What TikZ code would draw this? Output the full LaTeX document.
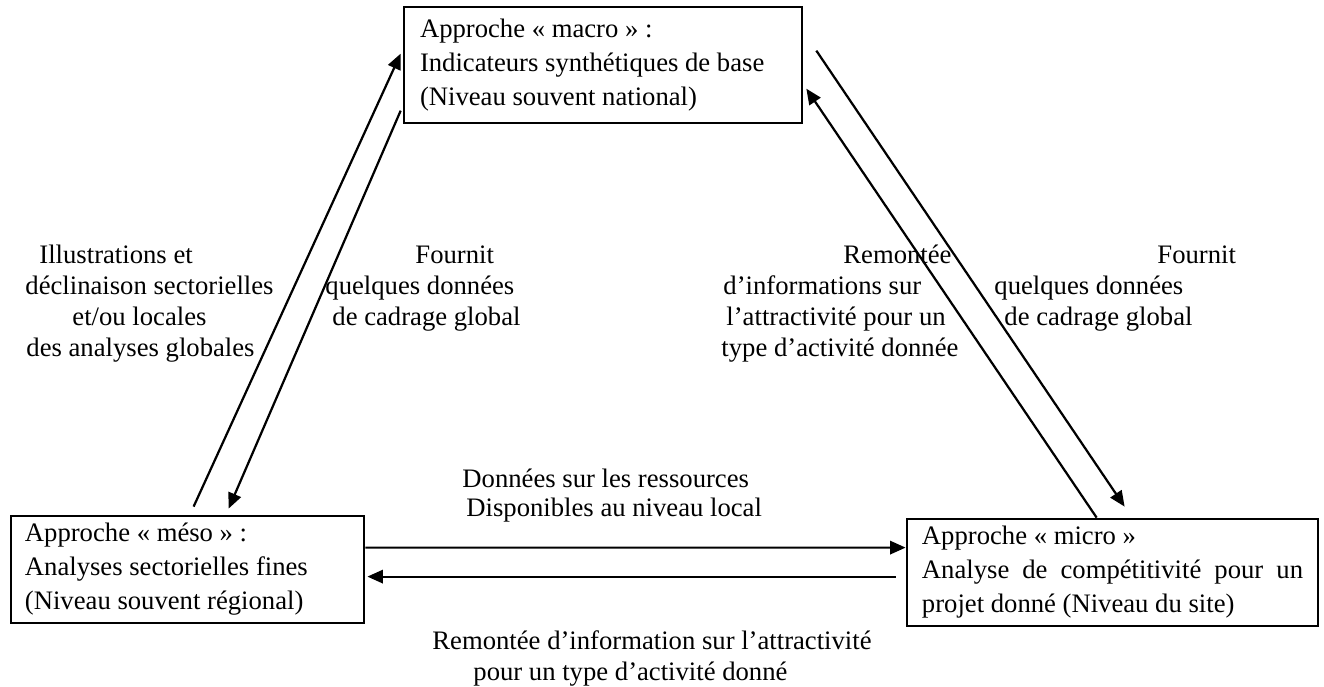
\documentclass[tikz,border=0pt]{standalone}
\usepackage{fontspec}
\setmainfont{Liberation Serif}
\usetikzlibrary{arrows.meta}
\newcommand{\lline}[2]{\hbox to #1{#2\hfil}}
\begin{document}
\begin{tikzpicture}[x=0.45pt,y=-0.45pt,
  box/.style={draw, line width=1.2pt, rectangle, inner ysep=0pt,
              font=\fontsize{12}{15.3}\selectfont},
  lab/.style={anchor=base west, inner sep=0pt, font=\fontsize{12}{14}\selectfont},
  conn/.style={line width=1pt, -{Triangle[length=7pt,width=6pt]}}]
\path[use as bounding box] (0,0) rectangle (1324,687);

% boxes
\node[box, minimum width=179.1pt, minimum height=52.2pt, inner xsep=7.2pt]
  (macro) at (603,65) {\vbox{\baselineskip=15.3pt
    \lline{164.7pt}{Approche « macro » :}
    \lline{164.7pt}{Indicateurs synthétiques de base}
    \lline{164.7pt}{(Niveau souvent national)}}};
\node[box, minimum width=158.9pt, minimum height=48.2pt, inner xsep=6.3pt]
  (meso) at (187.5,569.5) {\vbox{\baselineskip=15.3pt
    \lline{146.3pt}{Approche « méso » :}
    \lline{146.3pt}{Analyses sectorielles fines}
    \lline{146.3pt}{(Niveau souvent régional)}}};
\node[box, minimum width=185pt, minimum height=48.2pt, inner xsep=6.75pt]
  (micro) at (1112.5,572.5) {\vbox{\baselineskip=15.3pt
    \lline{171.5pt}{Approche « micro »}
    \hbox to 171.5pt{Analyse\hfill de\hfill compétitivité\hfill pour\hfill un}
    \lline{171.5pt}{projet donné (Niveau du site)}}};

% connectors
\draw[conn] ([xshift=82.8pt,yshift=3.6pt]meso.north west) -- ([xshift=-0.9pt,yshift=-21.6pt]macro.north west);
\draw[conn] ([xshift=-0.9pt,yshift=-47.25pt]macro.north west) -- ([xshift=98.55pt,yshift=2.7pt]meso.north west);
\draw[conn] ([xshift=5.85pt,yshift=-20.25pt]macro.north east) -- ([xshift=98.55pt,yshift=4.95pt]micro.north west);
\draw[conn] ([xshift=85.95pt]micro.north west) -- ([xshift=1.35pt,yshift=-37.35pt]macro.north east);
\draw[conn] ([yshift=-14.85pt]meso.north east) -- ([yshift=-13.5pt]micro.north west);
\draw[conn] ([xshift=-4.5pt,yshift=-26.55pt]micro.north west) -- ([xshift=0.9pt,yshift=-27.9pt]meso.north east);

% labels left
\node[lab] (l1a) at (39,264) {Illustrations et};
\node[lab] (l1b) at (25,295) {déclinaison sectorielles};
\node[lab] (l1c) at (72,326) {et/ou locales};
\node[lab] (l1d) at (26,357) {des analyses globales};
\node[lab] (l2a) at (415,264) {Fournit};
\node[lab] (l2b) at (325,295) {quelques données};
\node[lab] (l2c) at (332,326) {de cadrage global};
% labels right
\node[lab] (l3a) at (843,264) {Remontée};
\node[lab] (l3b) at (723,295) {d’informations sur};
\node[lab] (l3c) at (726,326) {l’attractivité pour un};
\node[lab] (l3d) at (721,357) {type d’activité donnée};
\node[lab] (l4a) at (1157,264) {Fournit};
\node[lab] (l4b) at (994,295) {quelques données};
\node[lab] (l4c) at (1004,326) {de cadrage global};
% labels bottom
\node[lab] (l5a) at (462,488) {Données sur les ressources};
\node[lab] (l5b) at (466,517) {Disponibles au niveau local};
\node[lab] (l6a) at (432,649) {Remontée d’information sur l’attractivité};
\node[lab] (l6b) at (473,680) {pour un type d’activité donné};
\end{tikzpicture}
\end{document}
